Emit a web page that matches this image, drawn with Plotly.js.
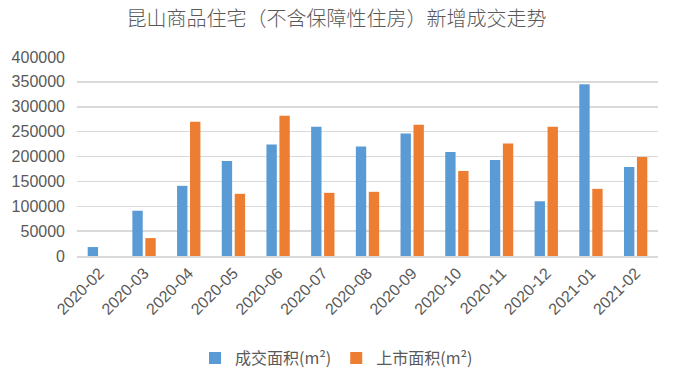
<!DOCTYPE html>
<html>
<head>
<meta charset="utf-8">
<script src="https://cdn.plot.ly/plotly-3.0.1.min.js"></script>
<style>html,body{margin:0;padding:0;background:#fff;}#chart{width:673px;height:375px;}</style>
</head>
<body>
<div id="chart"></div>
<script>
const categories = ["2020-02","2020-03","2020-04","2020-05","2020-06","2020-07","2020-08","2020-09","2020-10","2020-11","2020-12","2021-01","2021-02"];
const dealArea = [18000, 91000, 141000, 191000, 224000, 260000, 220000, 246000, 209000, 193000, 110000, 345000, 179000];
const listedArea = [0, 36000, 270000, 125000, 282000, 127000, 129000, 264000, 171000, 226000, 260000, 135000, 199000];
const seriesNames = ["成交面积(m²)", "上市面积(m²)"];
const yTicks = [0, 50000, 100000, 150000, 200000, 250000, 300000, 350000, 400000];

const font = "'Liberation Sans', 'Noto Sans CJK SC', sans-serif";
const traces = [
  {type:"bar", x:categories, y:dealArea, name:seriesNames[0], marker:{color:"#5b9bd5"}},
  {type:"bar", x:categories, y:listedArea, name:seriesNames[1], marker:{color:"#ed7d31"}}
];
const layout = {
  width:673, height:375,
  margin:{l:77, r:15, t:57, b:119},
  paper_bgcolor:"#fff", plot_bgcolor:"#fff",
  title:{text:"昆山商品住宅（不含保障性住房）新增成交走势", x:0.5, xanchor:"center", y:0.95, yanchor:"middle",
         font:{family:"'Noto Sans CJK SC', sans-serif", size:20, color:"#595959", weight:300}},
  barmode:"group", bargap:0.42, bargroupgap:0.2,
  xaxis:{type:"category", tickangle:-45, tickfont:{family:font, size:16, color:"#595959"},
         showgrid:false, showline:true, linecolor:"#d9d9d9", linewidth:1.5, ticks:"", automargin:false},
  yaxis:{range:[0,400000], tickvals:yTicks, ticktext:yTicks.map(String), tickfont:{family:font, size:16, color:"#595959"},
         showgrid:true, gridcolor:"#d9d9d9", gridwidth:1.5, zeroline:false, showline:false, ticks:"", ticklen:0,
         ticklabelstandoff:11, automargin:false},
  showlegend:true,
  legend:{orientation:"h", x:0.5, xanchor:"center", xref:"container", y:0.045, yanchor:"middle", yref:"container",
          font:{family:"'Noto Sans CJK SC', sans-serif", size:16, color:"#595959"}, itemwidth:30, traceorder:"normal"}
};
Plotly.newPlot("chart", traces, layout, {displayModeBar:false, staticPlot:true});
</script>
</body>
</html>
